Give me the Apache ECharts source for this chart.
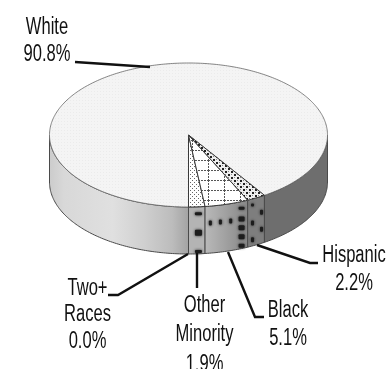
<!DOCTYPE html>
<html><head><meta charset="utf-8">
<style>html,body{margin:0;padding:0;background:#fff}#c{width:388px;height:369px;filter:blur(0.4px)}</style>
<script src="https://cdn.jsdelivr.net/npm/echarts@6/dist/echarts.min.js"></script>
</head><body><div id="c"></div>
<script>
const categories = ['Two+\nRaces', 'Other\nMinority', 'Black', 'Hispanic', 'White'];
const shareValues = [0.0, 1.9, 5.1, 2.2, 90.8];

const cx = 188.5, cy = 135, rx = 139, ry = 72, depth = 47;
const FONT = '"Liberation Sans",Arial,sans-serif';

function tile(w, h, draw) {
  const c = document.createElement('canvas'); c.width = w; c.height = h;
  const g = c.getContext('2d'); draw(g);
  return {type: 'pattern', image: c, repeat: 'repeat'};
}
const fills = [
  '#fff',
  tile(4, 4, g => { g.fillStyle = '#fff'; g.fillRect(0,0,4,4); g.fillStyle = '#666'; g.fillRect(0,0,1,1); g.fillRect(2,2,1,1); }),
  tile(16, 10, g => { g.fillStyle = '#fff'; g.fillRect(0,0,16,10); g.fillStyle = '#555';
    for (let x=0;x<16;x+=3) g.fillRect(x,0,2,1);
    for (let y=0;y<10;y+=3) g.fillRect(0,y,1,2); }),
  tile(6, 6, g => { g.fillStyle = '#eee'; g.fillRect(0,0,6,6); g.fillStyle = '#222'; g.fillRect(0,0,2,2); g.fillRect(3,3,2,2); g.fillStyle='#888'; g.fillRect(3,0,1,1); g.fillRect(0,3,1,1); }),
  tile(3, 3, g => { g.fillStyle = '#f4f4f4'; g.fillRect(0,0,3,3); g.fillStyle = '#ebebeb'; g.fillRect(1,1,1,1); })
];
const wallLeft = {type:'linear', x:50, y:0, x2:189, y2:0, global:true, colorStops:[
  {offset:0,color:'#cccccc'},{offset:.1,color:'#d8d8d8'},{offset:.45,color:'#e0e0e0'},{offset:.68,color:'#cfcfcf'},
  {offset:.88,color:'#bcbcbc'},{offset:1,color:'#a2a2a2'}]};
const wallBlack = {type:'linear', x:206, y:0, x2:249, y2:0, global:true, colorStops:[{offset:0,color:'#b8b8b8'},{offset:1,color:'#858585'}]};
const wallFills = [null, '#b4b4b4', wallBlack, '#7e7e7e', '#6e6e6e'];

// label placement per slice: leader-line vertices and text block centre
const leaders = [
  {line:[[188,254],[118,295],[108,295]], text:[87.5,315], lh:26.5},
  {line:[[197,253],[197,288]], text:[204.5,335], lh:29.5},
  {line:[[228,252],[255,317],[264,317]], text:[288,325], lh:28},
  {line:[[257,245],[310,263],[318,263]], text:[354,270], lh:28},
  {line:[[75,62],[150,67]], text:[47,41], lh:27}
];
// side-wall blotches in slice-relative terms: [fraction across slice, fraction down wall, w, h]
const blots = [
  [],
  [[.6,.15,7,3],[.6,.55,7,6],[.6,.95,7,3]],
  [[.12,.36,3,5],[.35,.36,3,5],[.59,.37,3,5],[.85,.14,6,3],[.85,.37,6,5],[.85,.56,6,5],[.85,.75,6,5],[.85,.94,6,4]],
  [[.28,.13,3,3],[.28,.51,3,5],[.28,.87,3,5],[.82,.34,3,5],[.82,.70,3,5]],
  []
];

function pt(a, dy) { return [cx + rx*Math.sin(a), cy + ry*Math.cos(a) + (dy||0)]; }
function arc(a0, a1) { const n = Math.max(2, Math.ceil(Math.abs(a1-a0)*60)), r=[]; for (let i=0;i<=n;i++) r.push(a0+(a1-a0)*i/n); return r; }
function sidePoly(a0, a1) {
  const t = arc(a0,a1);
  return t.map(a=>pt(a)).concat(t.slice().reverse().map(a=>pt(a,depth)));
}

const total = shareValues.reduce((s,v)=>s+v,0);
function startOf(i){ let s=0; for(let k=0;k<i;k++) s+=shareValues[k]; return s/total*Math.PI*2; }

function renderItem(params, api) {
  const i = params.dataIndex, v = api.value(1);
  const a0 = startOf(i), a1 = a0 + v/total*Math.PI*2;
  const kids = [];
  const edge = {stroke:'#4a4a4a', lineWidth:1, lineJoin:'round'};
  if (v > 0) {
    const ranges = i === 4 ? [[a0, Math.PI/2, wallFills[4]],[Math.PI*1.5, a1, wallLeft]] : [[a0,a1,wallFills[i]]];
    ranges.forEach(r => kids.push({type:'polygon', z2:1, shape:{points:sidePoly(r[0],r[1])}, style:Object.assign({fill:r[2]},edge)}));
    blots[i].forEach(b => {
      const a = a0+(a1-a0)*b[0], p = pt(a, b[1]*depth);
      kids.push({type:'rect', z2:2, shape:{x:p[0]-b[2]/2,y:p[1]-b[3]/2,width:b[2],height:b[3],r:1},
        style:{fill:'#1c1c1c',shadowColor:'#222',shadowBlur:3}});
    });
    kids.push({type:'polygon', z2:i===4?3:4, shape:{points:[[cx,cy]].concat(arc(a0,a1).map(a=>pt(a)))},
      style:Object.assign({fill:fills[i]},edge,{lineWidth:i===4?0.8:1,stroke:i===4?'#666':'#3a3a3a'})});
  }
  const L = leaders[i];
  kids.push({type:'polyline', z2:6, shape:{points:L.line}, style:{fill:null,stroke:'#111',lineWidth:2.4}});
  kids.push({type:'text', z2:7, x:L.text[0], y:L.text[1], scaleX:.72, style:{text:categories[i]+'\n'+v.toFixed(1)+'%', x:0, y:0,
    align:'center', verticalAlign:'middle', font:'23px '+FONT, lineHeight:L.lh, fill:'#111'}});
  return {type:'group', children:kids};
}

const chart = echarts.init(document.getElementById('c'), null, {renderer:'canvas'});
chart.setOption({
  animation:false,
  backgroundColor:'#fff',
  series:[{type:'custom', coordinateSystem:'none', silent:true, renderItem,
    data:categories.map((c,i)=>({name:c, value:[i, shareValues[i]]}))}]
});
</script></body></html>
